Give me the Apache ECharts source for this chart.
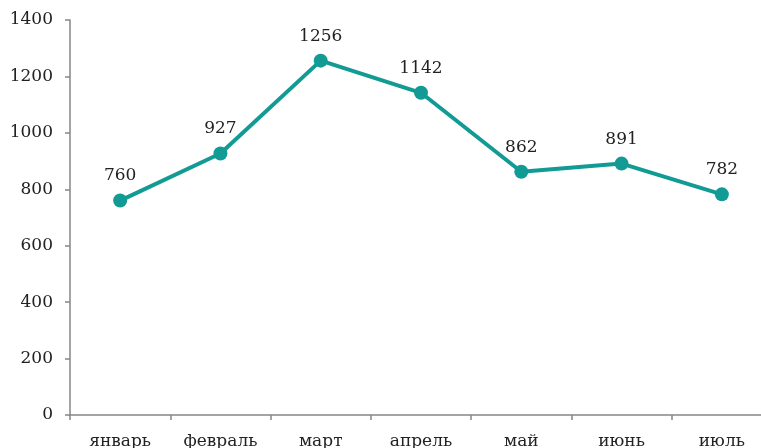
<!DOCTYPE html>
<html>
<head>
<meta charset="utf-8">
<script src="https://cdn.jsdelivr.net/npm/echarts@6/dist/echarts.min.js"></script>
<style>
  html, body { margin: 0; padding: 0; background: #fff; overflow: hidden; }
  #chart { width: 772px; height: 448px; }
</style>
</head>
<body>
<div id="chart"></div>
<script>
// месяцы и значения
var months = ['январь', 'февраль', 'март', 'апрель', 'май', 'июнь', 'июль'];
var values = [760, 927, 1256, 1142, 862, 891, 782];

var chart = echarts.init(document.getElementById('chart'));
var font = '"DejaVu Serif", serif';
var option = {
    animation: false,
    grid: {left: 70, right: 0, top: 20, bottom: 33, outerBoundsMode: 'none', containLabel: false},
    xAxis: {
        type: 'category',
        data: months,
        boundaryGap: true,
        axisLine: {lineStyle: {color: '#868686', width: 1.5}},
        axisTick: {show: true, length: 5, alignWithLabel: false, lineStyle: {color: '#868686', width: 1.5}},
        axisLabel: {color: '#222', fontFamily: font, fontSize: 17, margin: 18}
    },
    yAxis: {
        type: 'value',
        min: 0,
        max: 1400,
        interval: 200,
        splitLine: {show: false},
        axisLine: {show: true, lineStyle: {color: '#868686', width: 1.5}},
        axisTick: {show: true, length: 5, lineStyle: {color: '#868686', width: 1.5}},
        axisLabel: {color: '#222', fontFamily: font, fontSize: 17, margin: 17,
            formatter: function (v) { return String(v); }}
    },
    series: [{
        type: 'line',
        data: values,
        symbol: 'circle',
        symbolSize: 14,
        lineStyle: {color: '#129b94', width: 4},
        itemStyle: {color: '#129b94'},
        label: {
            show: true,
            position: 'top',
            distance: 9,
            color: '#222',
            fontFamily: font,
            fontSize: 17
        }
    }]
};
chart.setOption(option);
</script>
</body>
</html>
